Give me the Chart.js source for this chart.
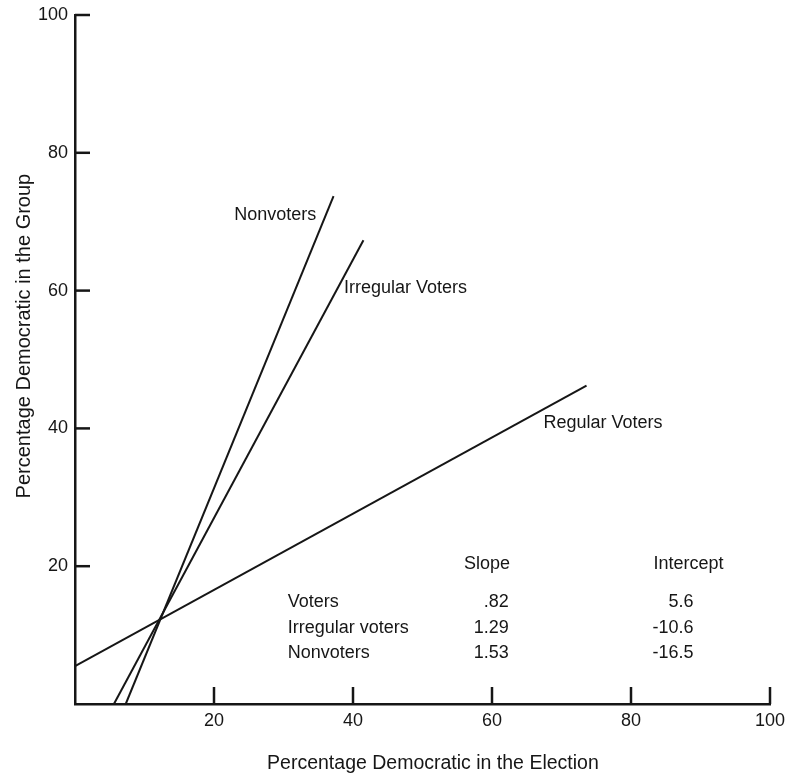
<!DOCTYPE html>
<html>
<head>
<meta charset="utf-8">
<script src="https://cdn.jsdelivr.net/npm/chart.js@4/dist/chart.umd.min.js"></script>
<style>
  html, body { margin: 0; padding: 0; background: #fff; }
  #wrap { width: 785px; height: 775px; }
</style>
</head>
<body>
<div id="wrap"><canvas id="chart"></canvas></div>
<script>
// lines (x = % Democratic in election, y = % Democratic in group)
const regularVoters = [{ x: 0, y: 5.5 }, { x: 73.6, y: 46.2 }];
const irregularVoters = [{ x: 5.6, y: 0 }, { x: 41.5, y: 67.3 }];
const nonvoters = [{ x: 7.3, y: 0 }, { x: 37.2, y: 73.7 }];

// line labels, placed in data units
const lineLabels = ['Nonvoters', 'Irregular Voters', 'Regular Voters'];
const lineLabelX = [34.7, 38.7, 67.4];
const lineLabelY = [71.0, 60.4, 40.8];
const lineLabelAlign = ['right', 'left', 'left'];

// the little table in the corner
const tableHeaders = ['Slope', 'Intercept'];
const tableRows = ['Voters', 'Irregular voters', 'Nonvoters'];
const slopes = ['.82', '1.29', '1.53'];
const intercepts = ['5.6', '-10.6', '-16.5'];
const tableRowY = [14.8, 11.0, 7.4];
const tableHeaderY = 20.3;
const tableColX = [30.6, 62.4, 89.0]; // name left, slope right, intercept right
const headerRightX = [62.6, 93.3];

const tickValues = [20, 40, 60, 80, 100];

const xTitle = 'Percentage Democratic in the Election';
const yTitle = 'Percentage Democratic in the Group';

const ink = '#161616';
const font = '"Liberation Sans", Arial, Helvetica, sans-serif';

// inward tick marks, axis titles and text annotations
const annotations = {
    id: 'annotations',
    afterDraw(chart) {
        const ctx = chart.ctx;
        const xs = chart.scales.x;
        const ys = chart.scales.y;
        ctx.save();
        ctx.strokeStyle = ink;
        ctx.lineWidth = 2.5;
        tickValues.forEach(function(v) {
            const px = xs.getPixelForValue(v);
            ctx.beginPath();
            ctx.moveTo(px, ys.bottom);
            ctx.lineTo(px, ys.bottom - 17);
            ctx.stroke();
            const py = ys.getPixelForValue(v);
            ctx.beginPath();
            ctx.moveTo(xs.left, py);
            ctx.lineTo(xs.left + 15, py);
            ctx.stroke();
        });

        ctx.fillStyle = ink;
        ctx.textBaseline = 'middle';

        // axis titles (sit a bit off-centre in the original)
        ctx.textAlign = 'center';
        ctx.font = '19.5px ' + font;
        ctx.fillText(xTitle, xs.getPixelForValue(51.5), ys.bottom + 60);
        ctx.save();
        ctx.translate(xs.left - 51, ys.getPixelForValue(53.4));
        ctx.rotate(-Math.PI / 2);
        ctx.font = '20px ' + font;
        ctx.fillText(yTitle, 0, 0);
        ctx.restore();

        ctx.font = '18px ' + font;
        lineLabels.forEach(function(t, i) {
            ctx.textAlign = lineLabelAlign[i];
            ctx.fillText(t, xs.getPixelForValue(lineLabelX[i]), ys.getPixelForValue(lineLabelY[i]));
        });

        ctx.textAlign = 'right';
        tableHeaders.forEach(function(t, i) {
            ctx.fillText(t, xs.getPixelForValue(headerRightX[i]), ys.getPixelForValue(tableHeaderY));
        });
        tableRows.forEach(function(t, i) {
            const py = ys.getPixelForValue(tableRowY[i]);
            ctx.textAlign = 'left';
            ctx.fillText(t, xs.getPixelForValue(tableColX[0]), py);
            ctx.textAlign = 'right';
            ctx.fillText(slopes[i], xs.getPixelForValue(tableColX[1]), py);
            ctx.fillText(intercepts[i], xs.getPixelForValue(tableColX[2]), py);
        });
        ctx.restore();
    }
};

function lineSet(label, data) {
    return {
        label: label,
        data: data,
        showLine: true,
        borderColor: ink,
        borderWidth: 2,
        pointRadius: 0,
        fill: false
    };
}

const ctx = document.getElementById('chart').getContext('2d');
const chart = new Chart(ctx, {
    type: 'scatter',
    data: {
        datasets: [
            lineSet('Regular Voters', regularVoters),
            lineSet('Irregular Voters', irregularVoters),
            lineSet('Nonvoters', nonvoters)
        ]
    },
    options: {
        responsive: true,
        maintainAspectRatio: false,
        animation: false,
        layout: { padding: { top: 15, right: 15, left: 0, bottom: 0 } },
        plugins: {
            legend: { display: false },
            tooltip: { enabled: false }
        },
        scales: {
            x: {
                type: 'linear',
                min: 0,
                max: 100,
                afterFit: function(scale) {
                    scale.height = 71;
                    scale.paddingLeft = 0;
                    scale.paddingRight = 0;
                },
                grid: { display: false, drawTicks: false },
                border: { display: true, color: ink, width: 2.5 },
                ticks: {
                    stepSize: 20,
                    padding: 6,
                    maxRotation: 0,
                    color: ink,
                    font: { family: font, size: 18 },
                    callback: function(v) { return v === 0 ? '' : v; }
                }
            },
            y: {
                type: 'linear',
                min: 0,
                max: 100,
                afterFit: function(scale) {
                    scale.width = 75;
                    scale.paddingTop = 0;
                    scale.paddingBottom = 0;
                },
                grid: { display: false, drawTicks: false },
                border: { display: true, color: ink, width: 2.5 },
                ticks: {
                    stepSize: 20,
                    padding: 7,
                    color: ink,
                    font: { family: font, size: 18 },
                    callback: function(v) { return v === 0 ? '' : v; }
                }
            }
        }
    },
    plugins: [annotations]
});
</script>
</body>
</html>
